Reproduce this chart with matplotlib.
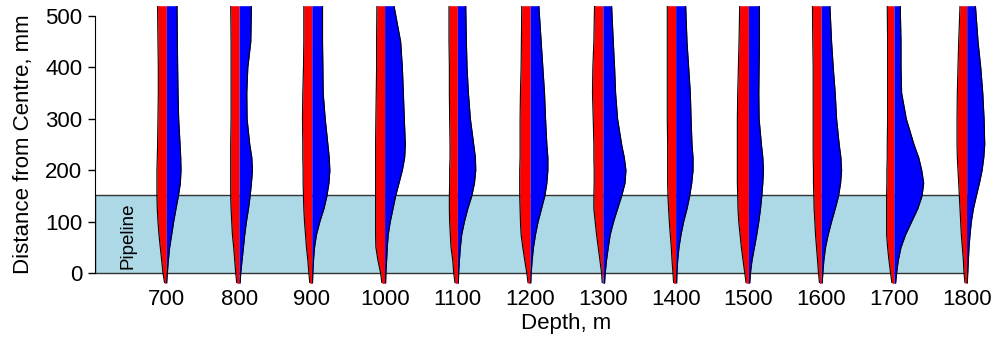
import numpy as np
import matplotlib.pyplot as plt
from matplotlib.patches import Rectangle

plt.rcParams['font.family'] = ['Liberation Sans', 'DejaVu Sans']

# depths (m) of each profile
depths = [700, 800, 900, 1000, 1100, 1200, 1300, 1400, 1500, 1600, 1700, 1800]

# distance from centre (mm) at which the widths were read
levels = [-20, 0, 25, 50, 75, 100, 125, 150, 175, 200, 225, 250, 300, 350, 400, 450, 520]

# half widths (in depth units) : red to the left, blue to the right
red_700 = [2.3, 4.6, 6.4, 8.3, 10.1, 11.5, 12.4, 12.9, 12.9, 12.9, 12.4, 12, 11.5, 11, 11, 11.5, 12]
blue_700 = [0.5, 1.4, 2.8, 4.6, 7.4, 10.1, 13.3, 16.6, 19.3, 20.2, 19.8, 18.9, 17, 16.1, 15.6, 15.2, 14.7]
red_800 = [3.2, 4.6, 6, 7.4, 9.2, 10.1, 11, 11.5, 11.5, 11.5, 11.5, 11.5, 11, 11, 11, 11, 11.5]
blue_800 = [1.4, 2.3, 4.1, 6, 7.8, 10.1, 12.9, 15.2, 17, 18.4, 17.5, 14.7, 11, 10.6, 12, 16.1, 17]
red_900 = [2.8, 4.1, 5.5, 7.4, 8.7, 10.1, 11, 11.5, 12, 12, 12.4, 12.4, 12.9, 12.4, 11.5, 11, 11]
blue_900 = [0.9, 1.4, 2.3, 3.7, 6.4, 11, 16.6, 20.7, 23.5, 24.8, 23.9, 22.1, 18.4, 15.6, 15.2, 14.7, 14.7]
red_1000 = [3.7, 5.5, 9.2, 12, 12.4, 12.4, 12.4, 12.4, 12.4, 12.4, 12.4, 12.4, 12, 11.5, 11, 11, 10.6]
blue_1000 = [1.4, 1.8, 2.8, 3.7, 5, 7.8, 11.5, 15.2, 19.8, 24.4, 27.6, 28.5, 27.1, 25.8, 24.4, 22.1, 12.9]
red_1100 = [3.2, 5, 6.4, 8.7, 9.7, 10.6, 11, 11, 10.6, 10.6, 10.1, 10.1, 10.6, 11, 11, 11.5, 11.5]
blue_1100 = [1.4, 1.8, 2.8, 4.1, 6, 9.7, 14.3, 19.8, 23.5, 25.3, 24.8, 22.5, 17.9, 15.2, 13.3, 12.4, 11.5]
red_1200 = [2.8, 4.6, 7.4, 10.1, 12.4, 13.3, 13.8, 14.3, 14.3, 14.3, 13.8, 13.8, 13.8, 13.3, 12.4, 12, 11.5]
blue_1200 = [0.9, 1.4, 2.8, 4.6, 7.4, 11, 15.6, 20.2, 23, 24.4, 24.4, 23, 21.2, 19.8, 17.5, 15.2, 12]
red_1300 = [0.9, 1.8, 4.1, 6.4, 8.7, 10.6, 12.4, 12.4, 12, 12, 12.4, 12.4, 13.3, 14.3, 13.8, 12.4, 11.5]
blue_1300 = [2.3, 3.2, 5, 7.4, 10.1, 14.7, 20.2, 25.8, 30.4, 31.7, 29.4, 25.8, 20.2, 17.5, 16.1, 14.3, 12]
red_1400 = [2.8, 3.7, 5, 6, 7.4, 8.7, 9.7, 10.6, 11, 11, 11, 11, 11.5, 11.5, 11.5, 11.5, 11.5]
blue_1400 = [1.4, 1.8, 2.8, 4.6, 7.4, 11, 15.6, 19.3, 22.1, 23.9, 23.9, 22.5, 21.2, 20.2, 17.9, 15.6, 13.8]
red_1500 = [3.2, 5, 7.4, 9.7, 11.5, 13.3, 14.3, 14.7, 15.2, 15.2, 15.2, 15.2, 15.2, 14.7, 13.8, 12.9, 12]
blue_1500 = [1.8, 2.8, 5, 8.3, 11.5, 14.3, 16.6, 18.4, 19.8, 20.7, 19.8, 17.9, 14.7, 14.3, 14.7, 15.2, 15.2]
red_1600 = [2.3, 3.7, 5, 6.4, 7.8, 8.7, 9.7, 10.1, 10.6, 10.6, 11, 11, 11, 11, 11, 11.5, 12]
blue_1600 = [1.4, 2.3, 3.7, 6, 9.7, 14.3, 19.3, 23.9, 26.7, 28.1, 27.1, 24.8, 21.2, 19.3, 16.6, 14.3, 12]
red_1700 = [2.8, 4.6, 6.9, 8.7, 10.1, 10.1, 10.1, 10.1, 9.7, 9.7, 9.2, 9.2, 8.7, 8.7, 8.7, 8.7, 9.2]
blue_1700 = [2.3, 3.7, 6, 9.7, 16.1, 24.4, 32.7, 38.6, 40.9, 38.2, 34, 27.6, 17, 10.6, 9.7, 9.7, 8.7]
red_1800 = [2.3, 3.7, 4.6, 6, 7.4, 8.3, 9.2, 10.1, 11, 12, 12.9, 13.3, 13.3, 12.9, 12, 11, 9.2]
blue_1800 = [0.9, 1.4, 2.3, 3.2, 4.6, 6.4, 9.2, 13.3, 17.5, 21.2, 23.5, 24.8, 23.9, 22.1, 19.3, 15.6, 12]

red = [red_700, red_800, red_900, red_1000, red_1100, red_1200,
       red_1300, red_1400, red_1500, red_1600, red_1700, red_1800]
blue = [blue_700, blue_800, blue_900, blue_1000, blue_1100, blue_1200,
        blue_1300, blue_1400, blue_1500, blue_1600, blue_1700, blue_1800]

pipe_radius = 152.4

fig = plt.figure(figsize=(9.94, 3.39), dpi=100)
ax = fig.add_axes([95/994, 0.1643, 943/994, 0.8189])
ax.set_xlim(602, 1898)
ax.set_ylim(-20, 520)

ax.add_patch(Rectangle((602, 0), 1800 - 602, pipe_radius, facecolor='lightblue',
                       edgecolor='#333333', lw=1, zorder=1))
ax.text(647, 8, 'Pipeline', rotation=90, ha='center', va='bottom', fontsize=13.5)

y = np.array(levels)
for d, r, b in zip(depths, red, blue):
    r = np.array(r)
    b = np.array(b)
    ax.fill_betweenx(y, d - r, d, color='#ff0000', lw=0, zorder=2)
    ax.fill_betweenx(y, d, d + b, color='#0000ff', lw=0, zorder=2)
    ax.plot(d - r, y, color='black', lw=0.8, zorder=3)
    ax.plot(d + b, y, color='black', lw=0.8, zorder=3)

for s in ['top', 'right', 'bottom']:
    ax.spines[s].set_visible(False)
ax.spines['left'].set_bounds(0, 500)

ax.set_yticks(range(0, 501, 100))
ax.set_xticks(depths)
ax.tick_params(axis='y', length=5, width=1, pad=4, labelsize=16)
ax.tick_params(axis='x', length=0, pad=4, labelsize=16)

ax.set_xlabel('Depth, m', fontsize=16, labelpad=2)
ax.set_ylabel('Distance from Centre, mm', fontsize=16, labelpad=8)

fig.savefig('out.png', dpi=100)
